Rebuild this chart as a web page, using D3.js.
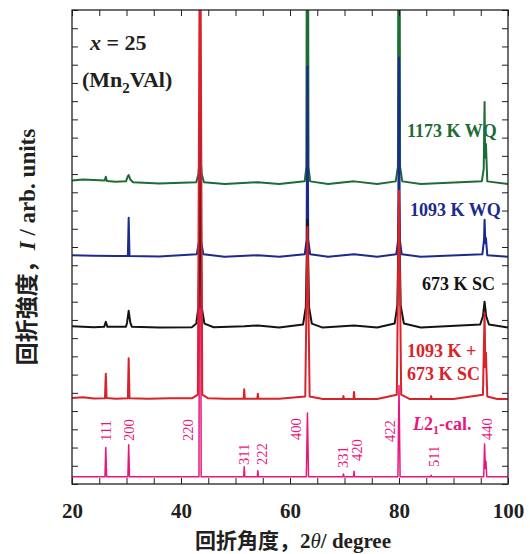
<!DOCTYPE html>
<html>
<head>
<meta charset="utf-8">
<script src="https://cdn.jsdelivr.net/npm/d3@7"></script>
<style>
  html, body { margin: 0; padding: 0; background: #fff; }
  svg { display: block; }
</style>
</head>
<body>
<div id="xrd-chart"></div>
<script>
// XRD patterns of Mn2VAl (x = 25), stacked with vertical offsets.
// Values are [2theta (deg), intensity above own baseline (arb. units)].

var xTicks = [20, 25, 30, 35, 40, 45, 50, 55, 60, 65, 70, 75, 80, 85, 90, 95, 100];
var xLabels = [20, 40, 60, 80, 100];

var seriesNames = ['L21cal', 'green', 'blue', 'black', 'red'];
var offsets = { L21cal: 0.4, red: 4.6, black: 8.5, blue: 12.4, green: 16.4 };

var l21cal = [[20, 0], [26.05, 0], [26.2, 1.6], [26.35, 0], [30.25, 0], [30.4, 1.75], [30.55, 0],
  [43.3, 0], [43.5, 30], [43.7, 0], [51.5, 0], [51.6, 0.55], [51.7, 0], [54.0, 0], [54.1, 0.33], [54.2, 0],
  [63.0, 0], [63.2, 3.5], [63.4, 0], [69.7, 0], [69.8, 0.15], [69.9, 0], [71.65, 0], [71.75, 0.3], [71.85, 0],
  [79.8, 0], [80.0, 5], [80.2, 0], [85.8, 0], [85.9, 0.08], [86.0, 0],
  [95.55, 0], [95.7, 1.8], [95.85, 0.45], [95.95, 0.85], [96.1, 0], [100, 0]];

var red = [[20, 0.12], [22, 0.16], [24, 0.09], [26.05, 0.1], [26.2, 1.45], [26.35, 0.12], [28, 0.08],
  [30.25, 0.1], [30.4, 2.3], [30.55, 0.1], [34, 0.08], [38, 0.1], [42, 0.1], [43.1, 0.3], [43.5, 30], [43.9, 0.3],
  [45, 0.1], [48, 0.08], [51.5, 0.08], [51.6, 0.6], [51.7, 0.08], [54.0, 0.08], [54.1, 0.35], [54.2, 0.08],
  [58, 0.08], [62.8, 0.2], [63.2, 9.5], [63.6, 0.2], [66, 0.06], [69.7, 0.06], [69.8, 0.22], [69.9, 0.06],
  [71.65, 0.06], [71.75, 0.45], [71.85, 0.06], [76, 0.06], [79.6, 0.3], [80.0, 11.5], [80.4, 0.3], [82, 0.06],
  [85.8, 0.06], [85.9, 0.22], [86.0, 0.06], [90, 0.06], [95.4, 0.3], [95.7, 4.8], [95.85, 1.8], [95.95, 2.6],
  [96.2, 0.2], [98, 0.06], [100, 0.06]];

var black = [[20, 0.15], [24, 0.1], [25.9, 0.12], [26.2, 0.4], [26.5, 0.12], [29.9, 0.12], [30.1, 0.35],
  [30.4, 1.0], [30.7, 0.35], [31, 0.12], [36, 0.08], [42, 0.1], [42.8, 0.3], [43.2, 1.2], [43.5, 8], [43.8, 1.2],
  [44.3, 0.3], [46, 0.1], [51.6, 0.15], [54.1, 0.2], [58, 0.08], [62.4, 0.25], [62.9, 1.2], [63.2, 6], [63.5, 1.2],
  [64, 0.3], [66, 0.08], [71.75, 0.2], [76, 0.08], [79.2, 0.3], [79.7, 1.3], [80.0, 7], [80.3, 1.3], [80.9, 0.3],
  [84, 0.08], [94.9, 0.25], [95.4, 0.7], [95.7, 1.5], [96.0, 0.7], [96.5, 0.25], [100, 0.08]];

var blue = [[20, 0.15], [24, 0.12], [28, 0.1], [30.25, 0.1], [30.4, 2.2], [30.55, 0.1], [36, 0.08],
  [42.9, 0.2], [43.3, 0.9], [43.5, 9], [43.7, 0.9], [44.1, 0.2], [48, 0.06], [54.1, 0.15], [58, 0.06],
  [62.7, 0.2], [63.05, 1], [63.2, 10.5], [63.35, 1], [63.7, 0.2], [67, 0.06], [71.75, 0.2], [76, 0.06],
  [79.5, 0.2], [79.85, 1], [80.0, 11], [80.15, 1], [80.5, 0.2], [84, 0.06], [95.3, 0.2], [95.6, 1], [95.7, 2.1],
  [95.85, 0.8], [95.95, 1.1], [96.2, 0.15], [100, 0.06]];

var green = [[20, 0.25], [22, 0.3], [24, 0.28], [26, 0.25], [26.2, 0.45], [26.4, 0.22], [28, 0.18],
  [29.9, 0.2], [30.2, 0.45], [30.4, 0.55], [30.7, 0.3], [31.2, 0.15], [36, 0.08], [42.8, 0.15], [43.2, 0.6],
  [43.5, 1.8], [43.8, 0.6], [44.2, 0.15], [48, 0.06], [54.1, 0.15], [58, 0.06], [62.7, 0.2], [63.0, 1.0],
  [63.2, 30], [63.4, 1.0], [63.7, 0.2], [67, 0.06], [71.75, 0.2], [76, 0.06], [79.4, 0.2], [79.8, 1.0],
  [80.0, 30], [80.2, 1.0], [80.6, 0.2], [84, 0.06], [95.2, 0.2], [95.55, 0.9], [95.7, 4.55], [95.8, 1.5],
  [95.95, 2.25], [96.2, 0.2], [100, 0.05]];

var hklNames = ['111', '200', '220', '311', '222', '400', '331', '420', '422', '511', '440'];
var hklPos = [26.2, 30.4, 43.5, 51.6, 54.1, 63.2, 69.8, 71.75, 80.0, 85.9, 95.7];

document.addEventListener('DOMContentLoaded', function () {
  drawXRD();
});

function drawXRD() {
  var el = document.getElementById('xrd-chart');
  var width = 530;
  var height = 554;
  var margin = { top: 10, right: 22, bottom: 70, left: 72 };
  var serif = '"Liberation Serif", "Times New Roman", serif';
  var cjk = '"Noto Sans CJK JP", "Noto Sans CJK SC", sans-serif';
  var ink = '#231f20';

  var colors = { L21cal: '#e8177c', red: '#d9232b', black: '#141414', blue: '#1c2a8c', green: '#1d6b35' };
  var data = { L21cal: l21cal, red: red, black: black, blue: blue, green: green };

  var svg = d3.select(el).append('svg')
    .attr('width', width)
    .attr('height', height);

  var x = d3.scaleLinear().domain([20, 100]).range([margin.left, width - margin.right]);
  var y = d3.scaleLinear().domain([0, 26]).range([height - margin.bottom, margin.top]);

  svg.append('clipPath').attr('id', 'plot-clip')
    .append('rect')
    .attr('x', margin.left).attr('y', margin.top)
    .attr('width', width - margin.left - margin.right)
    .attr('height', height - margin.top - margin.bottom);

  var line = function (name) {
    return d3.line()
      .x(function (d) { return x(d[0]); })
      .y(function (d) { return y(d[1] + offsets[name]); });
  };

  var plot = svg.append('g').attr('clip-path', 'url(#plot-clip)');
  seriesNames.forEach(function (name) {
    plot.append('path')
      .datum(data[name])
      .attr('fill', 'none')
      .attr('stroke', colors[name])
      .attr('stroke-width', name === 'L21cal' ? 1.5 : 2)
      .attr('stroke-linejoin', 'round')
      .attr('d', line(name));
  });

  // axes, ticks pointing inward, no y labels
  var styleAxis = function (g) {
    g.select('.domain').remove();
    g.selectAll('line').attr('stroke', ink).attr('stroke-width', 1);
  };
  svg.append('g')
    .attr('transform', 'translate(0,' + (height - margin.bottom) + ')')
    .call(d3.axisBottom(x).tickValues(xTicks).tickSize(-6).tickPadding(19)
      .tickFormat(function (d) { return xLabels.indexOf(d) >= 0 ? d : ''; }))
    .call(styleAxis)
    .call(function (g) {
      g.selectAll('text').attr('font-family', serif).attr('font-weight', 'bold')
        .attr('font-size', 21).attr('fill', ink);
    });
  svg.append('g')
    .attr('transform', 'translate(0,' + margin.top + ')')
    .call(d3.axisTop(x).tickValues(xTicks).tickSize(-6).tickFormat(''))
    .call(styleAxis);
  svg.append('g')
    .attr('transform', 'translate(' + margin.left + ',0)')
    .call(d3.axisLeft(y).ticks(26).tickSize(-6).tickFormat(''))
    .call(styleAxis);
  svg.append('g')
    .attr('transform', 'translate(' + (width - margin.right) + ',0)')
    .call(d3.axisRight(y).ticks(26).tickSize(-6).tickFormat(''))
    .call(styleAxis);

  svg.append('rect')
    .attr('x', margin.left).attr('y', margin.top)
    .attr('width', width - margin.left - margin.right)
    .attr('height', height - margin.top - margin.bottom)
    .attr('fill', 'none').attr('stroke', ink).attr('stroke-width', 1.3);

  // hkl labels of the calculated pattern
  var hklLayout = [
    { dx: 0, y: 441 }, { dx: 0, y: 441 }, { dx: -12, y: 441 }, { dx: 0, y: 465 }, { dx: 4.5, y: 465 },
    { dx: -11, y: 440 }, { dx: 0, y: 468 }, { dx: 3, y: 461 }, { dx: -9, y: 442 }, { dx: 3, y: 467 }, { dx: 2.5, y: 440 }
  ];
  hklNames.forEach(function (name, i) {
    var px = x(hklPos[i]) + hklLayout[i].dx + 5;
    svg.append('text')
      .attr('transform', 'translate(' + px + ',' + hklLayout[i].y + ') rotate(-90)')
      .attr('font-family', serif).attr('font-size', 14.5)
      .attr('fill', colors.L21cal)
      .text(name);
  });

  // series labels
  var lbl = function (tx, ty, color) {
    return svg.append('text')
      .attr('x', tx).attr('y', ty)
      .attr('font-family', serif).attr('font-weight', 'bold')
      .attr('font-size', 18).attr('fill', color);
  };
  lbl(407, 137, colors.green).text('1173 K WQ');
  lbl(410, 216, colors.blue).text('1093 K WQ');
  lbl(422, 290, colors.black).text('673 K SC');
  lbl(407, 357, colors.red).text('1093 K +');
  lbl(407, 380, colors.red).text('673 K SC');
  var cal = lbl(413, 430, colors.L21cal);
  cal.append('tspan').attr('font-style', 'italic').text('L');
  cal.append('tspan').text('2');
  cal.append('tspan').attr('font-size', 12).attr('dy', 4).text('1');
  cal.append('tspan').attr('dy', -4).text('-cal.');

  var comp = lbl(90, 50, ink).attr('font-size', 22);
  comp.append('tspan').attr('font-style', 'italic').text('x');
  comp.append('tspan').text(' = 25');
  var form = lbl(82, 87, ink).attr('font-size', 22);
  form.append('tspan').text('(Mn');
  form.append('tspan').attr('font-size', 15).attr('dy', 6).text('2');
  form.append('tspan').attr('dy', -6).text('VAl)');

  // axis titles
  var xt = svg.append('text')
    .attr('x', 293).attr('y', 548)
    .attr('text-anchor', 'middle')
    .attr('font-size', 21).attr('font-weight', 'bold').attr('fill', ink);
  xt.append('tspan').attr('font-family', cjk).text('回折角度，');
  xt.append('tspan').attr('font-family', serif).text('2');
  xt.append('tspan').attr('font-family', serif).attr('font-style', 'italic').attr('font-weight', 'normal').text('θ');
  xt.append('tspan').attr('font-family', serif).text('/ degree');

  var yt = svg.append('text')
    .attr('transform', 'translate(35,247) rotate(-90)')
    .attr('text-anchor', 'middle')
    .attr('font-size', 23).attr('font-weight', 'bold').attr('fill', ink);
  yt.append('tspan').attr('font-family', cjk).text('回折強度，');
  yt.append('tspan').attr('font-family', serif).attr('font-style', 'italic').text('I');
  yt.append('tspan').attr('font-family', serif).text(' / arb. units');
}
</script>
</body>
</html>
